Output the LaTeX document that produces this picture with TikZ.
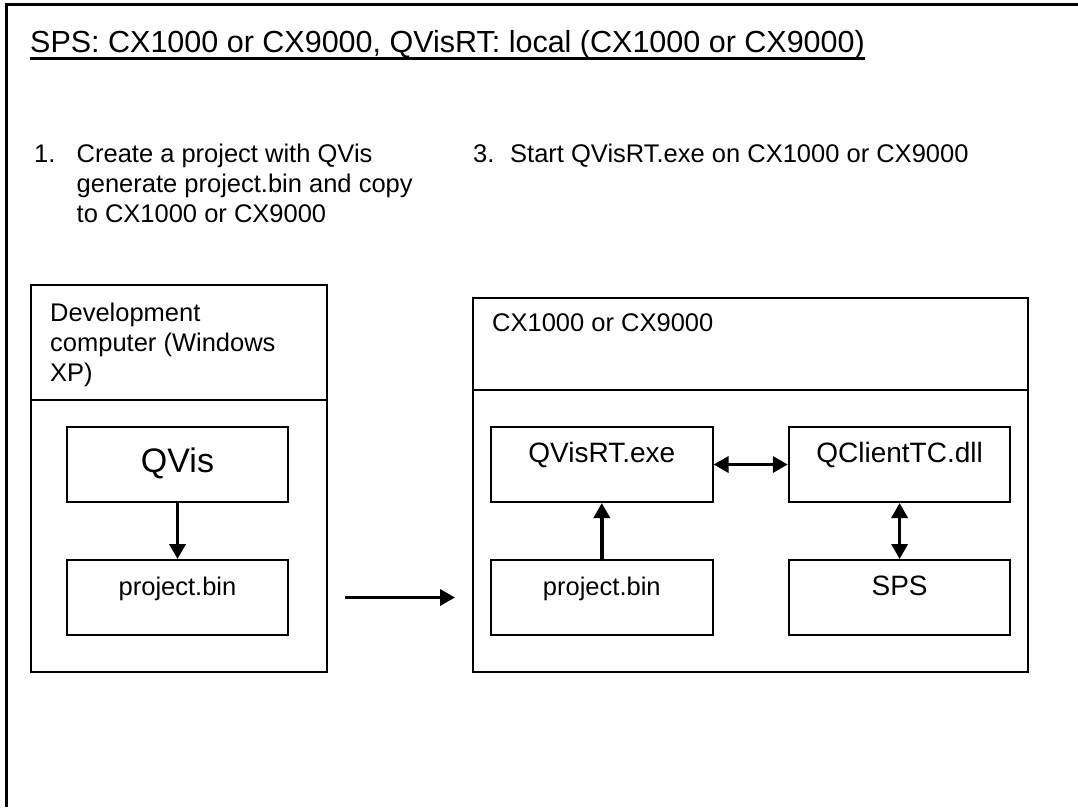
\documentclass[tikz,border=0pt]{standalone}
\usepackage{fontspec}
\setmainfont{Liberation Sans}
\usetikzlibrary{arrows.meta}
\usetikzlibrary{positioning}

\begin{document}
\begin{tikzpicture}[x=1pt,y=-1pt]
  \tikzset{
    plaintext/.style={inner sep=0pt,font=\fontsize{25.5}{30}\selectfont},
    hostbox/.style={draw,line width=2pt,inner sep=0pt,anchor=north west},
    unit/.style={draw,line width=2pt,inner sep=0pt,minimum height=75pt,
      text height=18pt,text depth=22pt,font=\fontsize{28}{32}\selectfont},
    flow/.style={line width=3.5pt,-{Triangle[length=15pt,width=16pt]}},
    flowboth/.style={line width=3.5pt,{Triangle[length=15pt,width=16pt]}-{Triangle[length=15pt,width=16pt]}},
  }
  \useasboundingbox (0,0) rectangle (1078,807);
  \draw[line width=3pt] (1078,4) -- (6.5,4) -- (6.5,807);
  \node[anchor=base west,inner sep=0pt,font=\fontsize{30.5}{36}\selectfont] (title) at (30,52) {SPS: CX1000 or CX9000, QVisRT: local (CX1000 or CX9000)};
  \draw[line width=3pt] ([yshift=-6pt]title.base west) -- ([yshift=-6pt]title.base east);
  \node[plaintext,anchor=base west] (num1) at (34,162) {1.};
  \node[plaintext,anchor=north west,align=left] (step1) at (76.5,143.4) {Create a project with QVis\\generate project.bin and copy\\to CX1000 or CX9000};
  \node[plaintext,anchor=base west] (num3) at (473,162) {3.};
  \node[plaintext,anchor=base west] (step3) at (510,162) {Start QVisRT.exe on CX1000 or CX9000};
  \node[hostbox,minimum width=296pt,minimum height=387pt] (devpc) at (30,284) {};
  \coordinate (devsplit) at (30,400);
  \draw[line width=2pt] (devsplit) -- (devsplit -| devpc.east);
  \node[plaintext,anchor=north west,align=left] (devname) at (50,302.4) {Development\\computer (Windows\\XP)};
  \node[unit,minimum width=221pt,text height=24pt,text depth=9pt,font=\fontsize{34}{40}\selectfont] (qvis) at (177.5,464.5) {QVis};
  \node[unit,minimum width=221pt,below=56pt of qvis,text height=17pt,text depth=22pt,font=\fontsize{25.5}{30}\selectfont] (binpc) {project.bin};
  \draw[flow] (qvis) -- (binpc);
  \node[hostbox,minimum width=555pt,minimum height=374.5pt] (cx) at (472,296.5) {};
  \coordinate (cxsplit) at (472,390);
  \draw[line width=2pt] (cxsplit) -- (cxsplit -| cx.east);
  \node[plaintext,anchor=west] (cxname) at (492,323) {CX1000 or CX9000};
  \node[unit,minimum width=221.6pt] (rt) at (601.8,464.5) {QVisRT.exe};
  \node[unit,minimum width=221.6pt,right=74.2pt of rt] (client) {QClientTC.dll};
  \node[unit,minimum width=221.6pt,below=56pt of rt,text height=17pt,text depth=22pt,font=\fontsize{25.5}{30}\selectfont] (bincx) {project.bin};
  \node[unit,minimum width=221.6pt,below=56pt of client] (sps) {SPS};
  \draw[flowboth] (rt) -- (client);
  \draw[flow] (bincx) -- (rt);
  \draw[flowboth] (client) -- (sps);
  \draw[flow,shorten <=17pt,shorten >=17pt] (binpc.east -| devpc.east) -- (binpc.east -| cx.west);
\end{tikzpicture}
\end{document}
